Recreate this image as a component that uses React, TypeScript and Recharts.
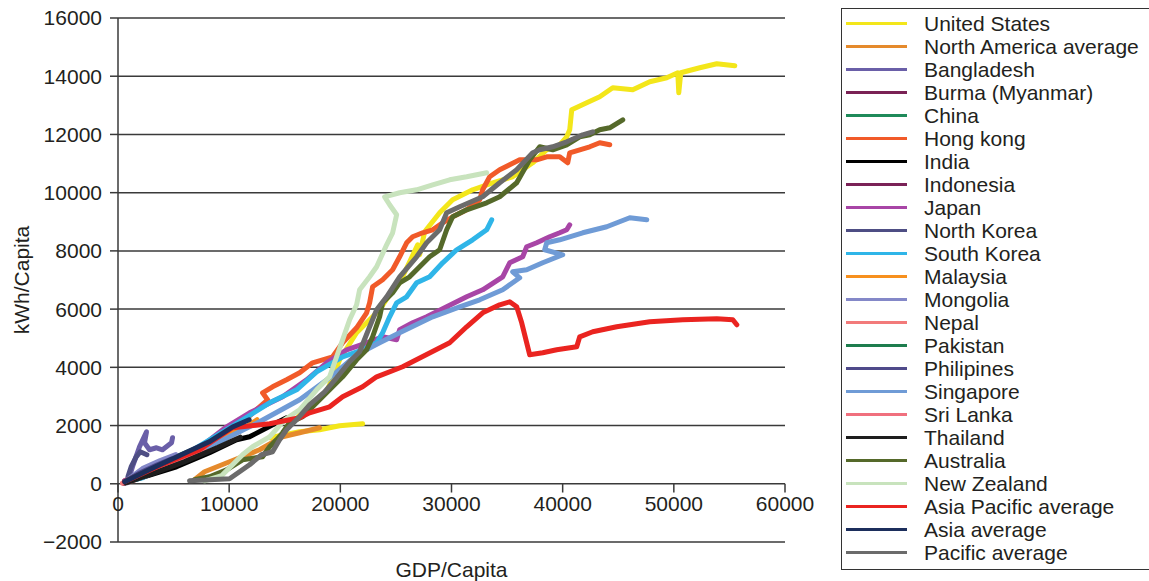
import React from 'react';
import { LineChart, Line, XAxis, YAxis, CartesianGrid, ReferenceLine } from 'recharts';

type Pt = [number, number];

const xTicks = [0, 10000, 20000, 30000, 40000, 50000, 60000];
const yTicks = [-2000, 0, 2000, 4000, 6000, 8000, 10000, 12000, 14000, 16000];

const unitedStates: Pt[] = [
  [16155, 2267], [17235, 2714], [18135, 2954], [18765, 3160], [19305, 3641], [19935, 4259],
  [20385, 4534], [21465, 5187], [22365, 5530], [23535, 5977], [24705, 6664], [25335, 6904],
  [26235, 7626], [26955, 8210], [27135, 7866], [27585, 8656], [28935, 9309], [30105, 9755],
  [31905, 10099], [33705, 10339], [35505, 10545], [37305, 11026], [38565, 11473], [39735, 11645],
  [40365, 11919], [40635, 12160], [40815, 12847], [42165, 13087], [43335, 13293], [44505, 13603],
  [46305, 13534], [47835, 13809], [49365, 13946], [50355, 14118], [50445, 13431], [50625, 14118],
  [52335, 14290], [53865, 14427], [55485, 14358],
];
const unitedStatesEarly: Pt[] = [
  [13635, 1580], [16335, 1786], [18135, 1855], [19935, 1992], [22005, 2061],
];
const northAmericaAverage: Pt[] = [
  [6885, 137], [7785, 412], [10035, 756], [12735, 1168], [14805, 1614], [16335, 1752], [18135, 1924],
];
const bangladesh: Pt[] = [
  [855, 34], [1305, 584], [1935, 1271], [2565, 1786], [2385, 1408], [2835, 1168], [3465, 1237],
  [4005, 1168], [4815, 1408], [4905, 1580],
];
const burma: Pt[] = [[500, 20], [1000, 110], [1500, 220], [2000, 300]];
const china: Pt[] = [[600, 40], [2000, 330], [4000, 720], [6000, 1050], [8500, 1450]];
const hongKong: Pt[] = [
  [585, 103], [2835, 481], [7335, 1168], [10935, 2027], [13455, 2885], [13005, 3126], [13905, 3332],
  [15165, 3572], [16335, 3813], [17505, 4156], [19305, 4362], [20205, 4843], [21465, 5359],
  [22365, 5874], [22635, 6217], [22905, 6767], [23805, 7007], [24705, 7351], [25335, 7797],
  [25965, 8278], [26505, 8484], [27405, 8622], [28305, 8725], [29205, 8965], [30105, 9171],
  [31365, 9412], [32535, 9755], [32805, 10099], [33435, 10545], [34335, 10786], [35235, 10958],
  [36135, 11129], [37665, 11129], [38565, 11232], [39735, 11232], [40455, 11026], [40635, 11370],
  [41535, 11473], [42435, 11576], [43335, 11713], [44235, 11645],
];
const india: Pt[] = [[585, 34], [5265, 584], [8235, 1065], [10665, 1511], [11835, 1614], [14265, 2095], [15165, 2267]];
const indonesia: Pt[] = [[600, 30], [2200, 330], [4000, 650], [5500, 900]];
const japan: Pt[] = [
  [585, 103], [3735, 653], [7335, 1237], [9765, 1958], [11835, 2439], [14805, 2988], [16965, 3572],
  [18765, 4156], [20565, 4603], [22365, 4843], [23805, 5049], [25065, 4946], [25335, 5290],
  [26505, 5530], [27765, 5736], [29565, 6080], [31365, 6423], [32805, 6664], [34605, 7110],
  [35235, 7591], [36405, 7797], [36765, 8141], [37665, 8278], [38835, 8484], [39735, 8622],
  [40365, 8725], [40635, 8897],
];
const northKorea: Pt[] = [[900, 250], [1200, 600], [1600, 900], [2000, 1100], [2600, 1000]];
const southKorea: Pt[] = [
  [585, 69], [2205, 206], [5265, 824], [8235, 1511], [11205, 2198], [13635, 2782], [16065, 3229],
  [17865, 3847], [20205, 4362], [22005, 4603], [23265, 4843], [23805, 5187], [24435, 5736],
  [25065, 6217], [25965, 6423], [26865, 6904], [28035, 7110], [29205, 7591], [30465, 8038],
  [31905, 8381], [33165, 8725], [33615, 9068],
];
const malaysia: Pt[] = [[800, 60], [3000, 480], [6000, 1000], [9000, 1550], [11500, 1950], [12500, 2200]];
const mongolia: Pt[] = [[900, 150], [2200, 520], [3800, 800], [5200, 1000]];
const nepal: Pt[] = [[400, 20], [900, 70], [1400, 120]];
const pakistan: Pt[] = [[600, 60], [1800, 320], [2800, 480]];
const philippines: Pt[] = [[700, 90], [2000, 380], [3500, 640], [4800, 850]];
const singapore: Pt[] = [
  [585, 69], [4635, 721], [9135, 1443], [12735, 2130], [16335, 2885], [19035, 3641], [21465, 4431],
  [23535, 4843], [25335, 5187], [28305, 5736], [30735, 6080], [32535, 6320], [34605, 6664],
  [36135, 7076], [35505, 7282], [36765, 7351], [38205, 7591], [40005, 7866], [38385, 8038],
  [38565, 8278], [39735, 8381], [41805, 8622], [43965, 8828], [46035, 9137], [47565, 9068],
];
const sriLanka: Pt[] = [[600, 40], [2500, 330], [5000, 760], [7800, 1150]];
const thailand: Pt[] = [[700, 30], [3000, 330], [6000, 760], [9000, 1250], [11000, 1600]];
const australia: Pt[] = [
  [6885, 137], [8235, 240], [9765, 481], [11205, 824], [13005, 927], [13635, 1271], [14265, 1511],
  [14805, 1752], [15435, 2095], [16605, 2301], [17865, 2782], [19035, 3229], [20205, 3675],
  [21465, 4259], [22365, 4603], [22905, 5049], [23535, 5736], [23805, 6217], [24705, 6561],
  [25335, 6904], [26235, 7110], [27135, 7454], [28035, 7797], [28935, 8038], [29565, 8725],
  [30105, 9171], [31365, 9412], [33165, 9652], [34335, 9858], [35865, 10339], [37035, 11129],
  [37935, 11576], [39105, 11473], [40365, 11645], [41535, 11919], [42435, 11988], [43335, 12160],
  [44235, 12229], [45405, 12503],
];
const newZealand: Pt[] = [
  [7785, 103], [9315, 275], [11205, 996], [12105, 1271], [13635, 1614], [14985, 2198], [16335, 2542],
  [17865, 3229], [19035, 3675], [19665, 4362], [20205, 4946], [20835, 5633], [21465, 6149],
  [21735, 6664], [22635, 7110], [23265, 7454], [24165, 8210], [24705, 8622], [25065, 9240],
  [24435, 9584], [23985, 9858], [25335, 9996], [26865, 10099], [28305, 10271], [29835, 10442],
  [31365, 10545], [33165, 10683],
];
const asiaPacificAverage: Pt[] = [
  [585, 69], [3735, 618], [7335, 1168], [10305, 1924], [13635, 2061], [16335, 2267], [17235, 2439],
  [19035, 2645], [20205, 2988], [22005, 3332], [23265, 3675], [25605, 4019], [29835, 4843],
  [31365, 5393], [32805, 5874], [34335, 6149], [35235, 6252], [35865, 6080], [36315, 5530],
  [36765, 4843], [37035, 4431], [38205, 4500], [39465, 4603], [41265, 4706], [41535, 5049],
  [42705, 5221], [44865, 5393], [47835, 5565], [50805, 5633], [53865, 5668], [55305, 5633],
  [55665, 5462],
];
const asiaAverage: Pt[] = [[600, 70], [2800, 480], [5500, 960], [8200, 1440], [10300, 1950], [11800, 2200]];
const pacificAverage: Pt[] = [
  [6435, 103], [10035, 172], [11835, 653], [12915, 996], [13905, 1099], [14535, 1511], [15165, 1855],
  [16065, 2198], [17235, 2714], [18585, 3160], [19665, 3641], [20835, 4191], [21735, 4534],
  [22635, 5393], [23265, 5977], [24165, 6423], [25335, 7110], [26865, 7797], [27765, 8278],
  [28935, 8725], [29565, 9309], [30735, 9515], [32805, 9858], [34335, 10339], [35865, 10786],
  [37305, 11370], [37935, 11473], [39105, 11576], [40365, 11748], [41805, 11988], [42705, 12091],
];

type Series = { name: string; color: string; data: Pt[]; legend: boolean };

const series: Series[] = [
  { name: 'United States', color: '#f3e61a', data: unitedStates, legend: true },
  { name: 'United States early', color: '#f3e61a', data: unitedStatesEarly, legend: false },
  { name: 'North America average', color: '#e58a2c', data: northAmericaAverage, legend: true },
  { name: 'Bangladesh', color: '#6a5fa8', data: bangladesh, legend: true },
  { name: 'Burma (Myanmar)', color: '#7a2255', data: burma, legend: true },
  { name: 'China', color: '#1f8a5a', data: china, legend: true },
  { name: 'Hong kong', color: '#f15a29', data: hongKong, legend: true },
  { name: 'India', color: '#000000', data: india, legend: true },
  { name: 'Indonesia', color: '#7a2257', data: indonesia, legend: true },
  { name: 'Japan', color: '#a845a6', data: japan, legend: true },
  { name: 'North Korea', color: '#4e4e84', data: northKorea, legend: true },
  { name: 'South Korea', color: '#2fb5e8', data: southKorea, legend: true },
  { name: 'Malaysia', color: '#f7901e', data: malaysia, legend: true },
  { name: 'Mongolia', color: '#8488c8', data: mongolia, legend: true },
  { name: 'Nepal', color: '#f27a7a', data: nepal, legend: true },
  { name: 'Pakistan', color: '#1e7d4e', data: pakistan, legend: true },
  { name: 'Philipines', color: '#4f4a8a', data: philippines, legend: true },
  { name: 'Singapore', color: '#6f9bd6', data: singapore, legend: true },
  { name: 'Sri Lanka', color: '#f0707e', data: sriLanka, legend: true },
  { name: 'Thailand', color: '#1e1e1e', data: thailand, legend: true },
  { name: 'Australia', color: '#55692a', data: australia, legend: true },
  { name: 'New Zealand', color: '#c8e3bd', data: newZealand, legend: true },
  { name: 'Asia Pacific average', color: '#ea2420', data: asiaPacificAverage, legend: true },
  { name: 'Asia average', color: '#1c2e5c', data: asiaAverage, legend: true },
  { name: 'Pacific average', color: '#6b6b6b', data: pacificAverage, legend: true },
];

const FONT = '"Liberation Sans", Arial, Helvetica, sans-serif';
const TEXT = '#231f20';

const toData = (pts: Pt[]) => pts.map(([x, y]) => ({ x, y }));

export default function App() {
  return (
    <div style={{ position: 'absolute', left: 0, top: 0, width: 1149, height: 581, background: '#fff', fontFamily: FONT }}>
      <LineChart width={830} height={581} margin={{ top: 18, right: 45, left: 0, bottom: 0 }}>
        <CartesianGrid horizontal vertical={false} stroke="#3a3a3a" strokeWidth={1.5} strokeOpacity={1} />
        <XAxis
          type="number"
          dataKey="x"
          domain={[0, 60000]}
          ticks={xTicks}
          height={39}
          axisLine={false}
          tickLine={false}
          tick={false}
          allowDataOverflow
          label={{ value: 'GDP/Capita', position: 'insideBottom', offset: 4, fill: TEXT, fontSize: 21, fontFamily: FONT }}
        />
        <YAxis
          type="number"
          domain={[-2000, 16000]}
          ticks={yTicks}
          width={118}
          interval={0}
          axisLine={{ stroke: '#3a3a3a', strokeWidth: 1.5 }}
          tickLine={{ stroke: '#3a3a3a', strokeWidth: 1.5 }}
          tickSize={8}
          tickMargin={8}
          tickFormatter={(v: number) => (v < 0 ? '\u2212' + Math.abs(v) : String(v))}
          tick={{ fill: TEXT, fontSize: 21, fontFamily: FONT }}
          allowDataOverflow
          label={{ value: 'kWh/Capita', angle: -90, position: 'insideLeft', offset: 22, fill: TEXT, fontSize: 21, fontFamily: FONT, style: { textAnchor: 'middle' } }}
        />
        {series.map((s) => (
          <Line
            key={s.name}
            data={toData(s.data)}
            dataKey="y"
            name={s.name}
            type="linear"
            stroke={s.color}
            strokeWidth={5}
            strokeLinejoin="round"
            strokeLinecap="round"
            dot={false}
            activeDot={false}
            isAnimationActive={false}
          />
        ))}
        {xTicks.map((t) => (
          <ReferenceLine
            key={'xt' + t}
            segment={[{ x: t, y: 0 }, { x: t, y: -300 }]}
            stroke="#3a3a3a"
            strokeWidth={1.5}
            label={{ value: String(t), position: 'bottom', offset: 4, fill: TEXT, fontSize: 21, fontFamily: FONT }}
          />
        ))}
      </LineChart>
      <div
        style={{
          position: 'absolute',
          left: 841,
          top: 8,
          width: 330,
          height: 562,
          border: '1.5px solid #333',
          boxSizing: 'border-box',
          paddingTop: 3,
        }}
      >
        {series.filter((s) => s.legend).map((s) => (
          <div key={s.name} style={{ display: 'flex', alignItems: 'center', height: 23 }}>
            <div style={{ marginLeft: 4, width: 61, height: 3, background: s.color }} />
            <div style={{ marginLeft: 17, fontSize: 21, color: TEXT, lineHeight: '23px', whiteSpace: 'nowrap' }}>{s.name}</div>
          </div>
        ))}
      </div>
    </div>
  );
}
